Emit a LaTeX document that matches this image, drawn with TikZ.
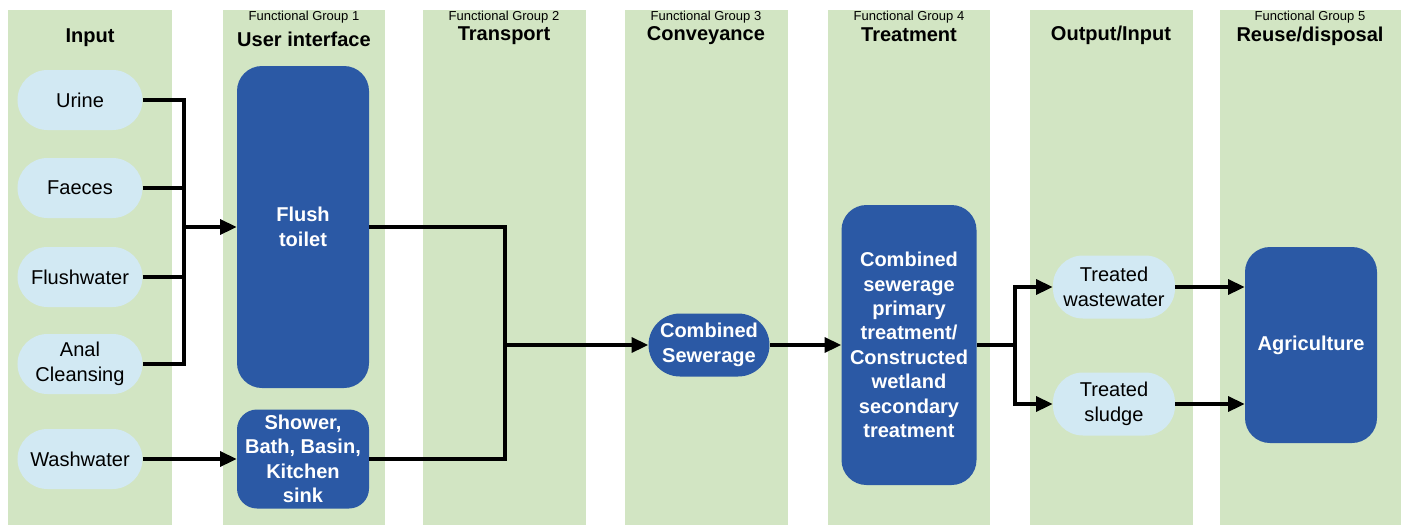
\documentclass[tikz,border=0pt]{standalone}
\usepackage{fontspec}
\setmainfont{Liberation Sans}
\usetikzlibrary{arrows.meta, positioning, calc}
\definecolor{bandgreen}{RGB}{210,229,195}
\definecolor{flowblue}{RGB}{210,233,243}
\definecolor{techblue}{RGB}{43,89,165}
\newcommand{\bodyfont}{\fontsize{11.4}{13.9}\selectfont}
\newcommand{\groupfont}{\fontsize{7.4}{9}\selectfont}
\tikzset{
  box/.style={
    rectangle, rounded corners=5mm, inner sep=0pt,
    align=center, font=\bodyfont
  },
  flow/.style={box, fill=flowblue, text=black, rounded corners=6mm, minimum width=25mm, minimum height=12mm},
  tech/.style={box, fill=techblue, text=white, font=\bodyfont\bfseries},
  band/.style={fill=bandgreen},
  pipe/.style={line width=0.65mm},
  edge/.style={pipe, -{Triangle[length=3.3mm, width=3mm]}},
  grouplabel/.style={font=\groupfont},
  titlelabel/.style={font=\bodyfont\bfseries}
}

\begin{document}
\begin{tikzpicture}[x=0.2mm, y=-0.2mm]
    \fill[white] (0,0) rectangle (1401,527);
    \useasboundingbox (0,0) rectangle (1401,527);
    \foreach \l/\r in {8/172, 223/385, 423/586, 625/788, 828/990, 1030/1193, 1220/1401}
      \fill[band] (\l,10) rectangle (\r,525);

    \node[titlelabel] (t0) at (90,38) {Input};
    \node[grouplabel] (g1) at (304,17) {Functional Group 1};
    \node[titlelabel] (t1) at (304,39) {User interface};
    \node[grouplabel] (g2) at (504,17) {Functional Group 2};
    \node[titlelabel] (t2) at (504,36) {Transport};
    \node[grouplabel] (g3) at (706,17) {Functional Group 3};
    \node[titlelabel] (t3) at (706,36) {Conveyance};
    \node[grouplabel] (g4) at (909,17) {Functional Group 4};
    \node[titlelabel] (t4) at (909,35) {Treatment};
    \node[titlelabel] (t5) at (1111,35) {Output/Input};
    \node[grouplabel] (g6) at (1310,17) {Functional Group 5};
    \node[titlelabel] (t6) at (1310,36) {Reuse/disposal};

    \node[flow] (urine) at (80,100) {Urine};
    \node[flow] (faeces) at (80,188) {Faeces};
    \node[flow] (flushw) at (80,277) {Flushwater};
    \node[flow] (anal) at (80,364) {Anal\\Cleansing};
    \node[flow] (washw) at (80,459) {Washwater};

    \node[tech, minimum width=26.4mm, minimum height=64.4mm] (toilet) at (303,227) {Flush\\toilet};
    \node[tech, minimum width=26.4mm, minimum height=19.8mm, rounded corners=4mm] (shower) at (303,459) {Shower,\\Bath, Basin,\\Kitchen\\sink};
    \node[tech, minimum width=24.2mm, minimum height=12.6mm, rounded corners=6.3mm] (sewer) at (709,345) {Combined\\Sewerage};
    \node[tech, minimum width=27mm, minimum height=56mm] (treat) at (909,345) {Combined\\sewerage\\primary\\treatment/\\Constructed\\wetland\\secondary\\treatment};
    \node[flow, minimum width=24.4mm, minimum height=12.6mm] (tww) at (1114,287) {Treated\\wastewater};
    \node[flow, minimum width=24.4mm, minimum height=12.6mm] (tsl) at (1114,404) {Treated\\sludge};
    \node[tech, minimum width=26.4mm, minimum height=39.2mm] (agri) at (1311,345) {Agriculture};

    \coordinate (j1) at (184,227);
    \coordinate (j2) at (505,345);
    \coordinate (j3) at (1015,345);
    \draw[pipe] (urine.east) -| (j1) |- (anal.east);
    \draw[pipe] (faeces.east) -- (faeces.east -| j1);
    \draw[pipe] (flushw.east) -- (flushw.east -| j1);
    \draw[edge] (j1) -- (toilet.west);
    \draw[edge] (washw.east) -- (shower.west);
    \draw[pipe] (toilet.east) -| (j2) |- (shower.east);
    \draw[edge] (j2) -- (sewer.west);
    \draw[edge] (sewer.east) -- (treat.west);
    \draw[pipe] (treat.east) -- (j3);
    \draw[edge] (j3) |- (tww.west);
    \draw[edge] (j3) |- (tsl.west);
    \draw[edge] (tww.east) -- (tww.east -| agri.west);
    \draw[edge] (tsl.east) -- (tsl.east -| agri.west);
\end{tikzpicture}
\end{document}
